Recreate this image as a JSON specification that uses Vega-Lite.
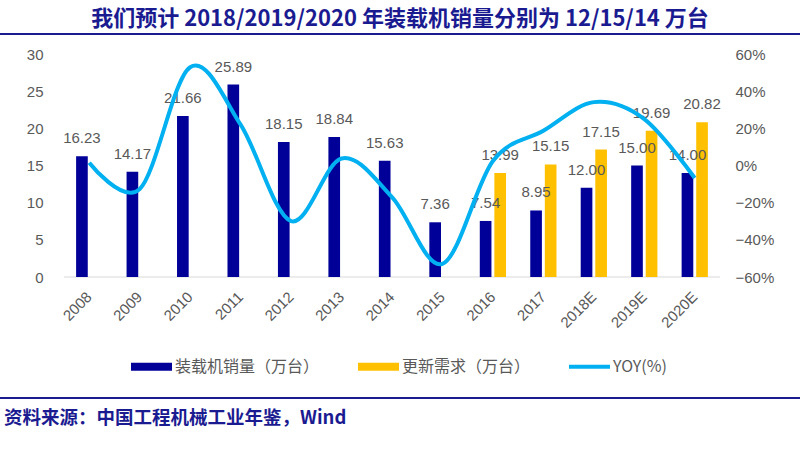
{
  "$schema": "https://vega.github.io/schema/vega-lite/v6.json",
  "background": "white",
  "padding": {"left": 0, "right": 0, "top": 8, "bottom": 0},
  "title": {
    "text": "我们预计 2018/2019/2020 年装载机销量分别为 12/15/14 万台",
    "font": "Noto Sans CJK SC",
    "fontSize": 22,
    "fontWeight": "bold",
    "color": "#1B1B91",
    "anchor": "middle",
    "offset": 2
  },
  "datasets": {
    "bars": [
      {"year": "2008", "series": "装载机销量（万台）", "value": 16.23},
      {"year": "2009", "series": "装载机销量（万台）", "value": 14.17},
      {"year": "2010", "series": "装载机销量（万台）", "value": 21.66},
      {"year": "2011", "series": "装载机销量（万台）", "value": 25.89},
      {"year": "2012", "series": "装载机销量（万台）", "value": 18.15},
      {"year": "2013", "series": "装载机销量（万台）", "value": 18.84},
      {"year": "2014", "series": "装载机销量（万台）", "value": 15.63},
      {"year": "2015", "series": "装载机销量（万台）", "value": 7.36},
      {"year": "2016", "series": "装载机销量（万台）", "value": 7.54},
      {"year": "2017", "series": "装载机销量（万台）", "value": 8.95},
      {"year": "2018E", "series": "装载机销量（万台）", "value": 12.00},
      {"year": "2019E", "series": "装载机销量（万台）", "value": 15.00},
      {"year": "2020E", "series": "装载机销量（万台）", "value": 14.00},
      {"year": "2016", "series": "更新需求（万台）", "value": 13.99},
      {"year": "2017", "series": "更新需求（万台）", "value": 15.15},
      {"year": "2018E", "series": "更新需求（万台）", "value": 17.15},
      {"year": "2019E", "series": "更新需求（万台）", "value": 19.69},
      {"year": "2020E", "series": "更新需求（万台）", "value": 20.82}
    ],
    "yoy": [
      {"year": "2008", "yoy": 0.015},
      {"year": "2009", "yoy": -0.127},
      {"year": "2010", "yoy": 0.529},
      {"year": "2011", "yoy": 0.22},
      {"year": "2012", "yoy": -0.299},
      {"year": "2013", "yoy": 0.038},
      {"year": "2014", "yoy": -0.17},
      {"year": "2015", "yoy": -0.529},
      {"year": "2016", "yoy": 0.024},
      {"year": "2017", "yoy": 0.187},
      {"year": "2018E", "yoy": 0.341},
      {"year": "2019E", "yoy": 0.25},
      {"year": "2020E", "yoy": -0.067}
    ],
    "baseline": [{"v": 0}],
    "empty": []
  },
  "spacing": 66,
  "vconcat": [
    {
      "spacing": 12,
      "vconcat": [
        {
          "width": 800,
          "height": 2,
          "view": {"fill": "#1B1B91", "stroke": null},
          "data": {"name": "empty"},
          "mark": "text",
          "encoding": {}
        },
        {
          "width": 720,
          "height": 223,
          "resolve": {"scale": {"y": "independent"}},
          "layer": [
            {
              "data": {"name": "baseline"},
              "mark": {"type": "rule", "color": "#D9D9D9", "strokeWidth": 1},
              "encoding": {
                "x": {"datum": "2008", "bandPosition": -0.4615},
                "x2": {"datum": "2020E", "bandPosition": 1.4615},
                "y": {"field": "v", "type": "quantitative", "scale": {"domain": [0, 30], "nice": false}, "axis": null}
              }
            },
            {
              "data": {"name": "bars"},
              "encoding": {
                "x": {
                  "field": "year",
                  "type": "nominal",
                  "title": null,
                  "scale": {
                    "domain": ["2008", "2009", "2010", "2011", "2012", "2013", "2014", "2015", "2016", "2017", "2018E", "2019E", "2020E"],
                    "paddingInner": 0.48,
                    "paddingOuter": 0.8743,
                    "align": 0.8625
                  },
                  "axis": {
                    "labelAngle": -45,
                    "labelAlign": "right",
                    "labelBaseline": "middle",
                    "labelPadding": 17,
                    "labelFont": "Liberation Sans",
                    "labelFontSize": 15,
                    "labelColor": "#595959",
                    "ticks": false,
                    "domain": false,
                    "grid": false
                  }
                },
                "xOffset": {
                  "field": "series",
                  "type": "nominal",
                  "scale": {
                    "domain": ["装载机销量（万台）", "更新需求（万台）"],
                    "paddingInner": 0.2,
                    "paddingOuter": 0
                  }
                },
                "y": {
                  "field": "value",
                  "type": "quantitative",
                  "title": null,
                  "scale": {"domain": [0, 30], "nice": false, "zero": true},
                  "axis": {
                    "orient": "left",
                    "offset": -64,
                    "values": [0, 5, 10, 15, 20, 25, 30],
                    "labelFont": "Liberation Sans",
                    "labelFontSize": 15,
                    "labelColor": "#595959",
                    "labelPadding": 21,
                    "ticks": false,
                    "domain": false,
                    "grid": false
                  }
                }
              },
              "layer": [
                {
                  "mark": {"type": "bar"},
                  "encoding": {
                    "color": {
                      "field": "series",
                      "type": "nominal",
                      "scale": {
                        "domain": ["装载机销量（万台）", "更新需求（万台）", "YOY(%)"],
                        "range": ["#000099", "#FFC000", "#00B0F0"]
                      },
                      "legend": {
                        "orient": "none",
                        "legendX": 131,
                        "legendY": 313,
                        "direction": "horizontal",
                        "title": null,
                        "padding": 0,
                        "symbolType": "M-1,-0.2H1V0.2H-1Z",
                        "symbolSize": 1681,
                        "symbolStrokeWidth": 0,
                        "labelFont": "Noto Sans CJK SC",
                        "labelFontSize": 16,
                        "labelColor": "#595959",
                        "labelOffset": 3,
                        "columnPadding": 38,
                        "encode": {
                          "symbols": {
                            "update": {
                              "shape": {"signal": "datum.value === 'YOY(%)' ? 'M-1,-0.1H1V0.1H-1Z' : 'M-1,-0.2H1V0.2H-1Z'"}
                            }
                          }
                        }
                      }
                    }
                  }
                },
                {
                  "mark": {
                    "type": "text",
                    "baseline": "alphabetic",
                    "align": "center",
                    "dy": -13,
                    "font": "Liberation Sans",
                    "fontSize": 15,
                    "color": "#595959"
                  },
                  "encoding": {
                    "text": {"field": "value", "type": "quantitative", "format": ".2f"}
                  }
                }
              ]
            },
            {
              "data": {"name": "yoy"},
              "mark": {
                "type": "line",
                "interpolate": "cardinal",
                "strokeWidth": 4,
                "color": "#00B0F0"
              },
              "encoding": {
                "x": {"field": "year", "type": "nominal"},
                "y": {
                  "field": "yoy",
                  "type": "quantitative",
                  "title": null,
                  "scale": {"domain": [-0.6, 0.6], "nice": false, "zero": false},
                  "axis": {
                    "orient": "right",
                    "format": ".0%",
                    "values": [-0.6, -0.4, -0.2, 0, 0.2, 0.4, 0.6],
                    "labelFont": "Liberation Sans",
                    "labelFontSize": 15,
                    "labelColor": "#595959",
                    "labelPadding": 15,
                    "ticks": false,
                    "domain": false,
                    "grid": false
                  }
                }
              }
            }
          ]
        }
      ]
    },
    {
      "width": 800,
      "height": 2,
      "view": {"fill": "#1B1B91", "stroke": null},
      "title": {
        "text": "资料来源：中国工程机械工业年鉴，Wind",
        "orient": "bottom",
        "anchor": "start",
        "font": "Noto Sans CJK SC",
        "fontSize": 18.5,
        "fontWeight": "bold",
        "color": "#1B1B91",
        "offset": 10,
        "dx": 4
      },
      "data": {"name": "empty"},
      "mark": "text",
      "encoding": {}
    }
  ],
  "config": {
    "view": {"stroke": null}
  }
}
